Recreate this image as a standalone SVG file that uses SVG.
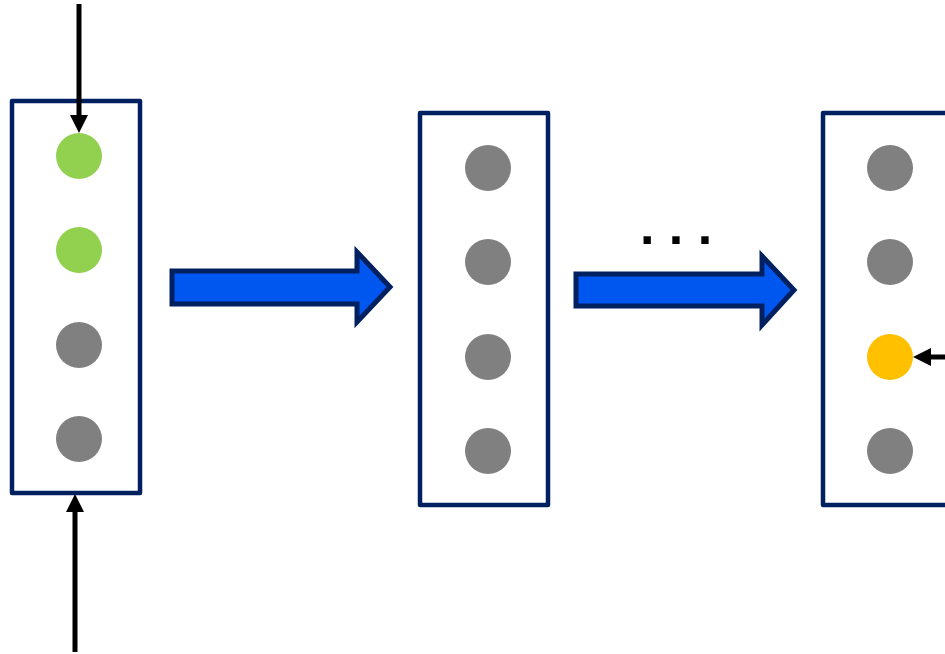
<svg xmlns="http://www.w3.org/2000/svg" width="945" height="654" viewBox="0 0 945 654">
<style>
.box{fill:#fff;stroke:#002060;stroke-width:4.5;stroke-linejoin:round}
.g{fill:#808080}
.gr{fill:#92D050}
.y{fill:#FFC000}
.blk{fill:#0057F0;stroke:#002060;stroke-width:5}
.ln{stroke:#000;stroke-width:5;fill:none}
.hd{fill:#000}
</style>
<rect width="945" height="654" fill="#fff"/>
<g id="layer1">
<rect class="box" x="12" y="101" width="128" height="392"/>
<circle class="gr" cx="79" cy="156" r="23"/>
<circle class="gr" cx="79" cy="250" r="23"/>
<circle class="g" cx="79" cy="345" r="23"/>
<circle class="g" cx="79" cy="439" r="23"/>
</g>
<g id="layer2">
<rect class="box" x="420" y="113" width="128" height="392"/>
<circle class="g" cx="488" cy="168" r="23"/>
<circle class="g" cx="488" cy="262" r="23"/>
<circle class="g" cx="488" cy="357" r="23"/>
<circle class="g" cx="488" cy="451" r="23"/>
</g>
<g id="layer3">
<rect class="box" x="823" y="113" width="160" height="392"/>
<circle class="g" cx="890" cy="168" r="23"/>
<circle class="g" cx="890" cy="262" r="23"/>
<circle class="y" cx="890" cy="357" r="23"/>
<circle class="g" cx="890" cy="451" r="23"/>
</g>
<g id="dots">
<text x="676" y="244" font-family="Liberation Sans, Arial, sans-serif" font-weight="bold" font-size="52" text-anchor="middle">. . .</text>
</g>
<g id="connectors">
<path class="blk" d="M172,271 H357 V252 L390,287 L357,322 V304 H172 Z"/>
<path class="blk" d="M576,274 H762 V256 L794,290 L762,325 V306 H576 Z"/>
<line class="ln" x1="79" y1="4" x2="79" y2="118"/>
<polygon class="hd" points="70,115 88,115 79,133"/>
<line class="ln" x1="75" y1="652" x2="75" y2="508"/>
<polygon class="hd" points="66,512 84,512 75,494"/>
<line class="ln" x1="945" y1="357" x2="928" y2="357"/>
<polygon class="hd" points="931,348 931,366 913,357"/>
</g>
</svg>
